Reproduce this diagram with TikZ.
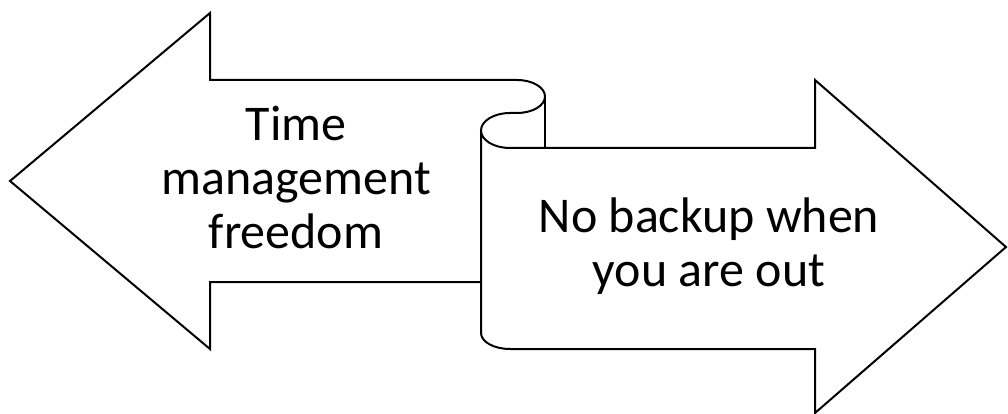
\documentclass[tikz,border=0pt]{standalone}
\usepackage{fontspec}
\setmainfont{Carlito}
\begin{document}
\begin{tikzpicture}[x=1pt,y=-1pt,
  outline/.style={draw=black,line width=2pt,line join=miter},
  label/.style={font=\fontsize{50}{54}\selectfont,align=center,anchor=base,inner sep=0pt}]
\useasboundingbox (0,0) rectangle (1008,414);
% ribbon outline: left arrow, curl, right arrow
\draw[outline] (481,282) -- (210,282) -- (210,349) -- (10,181) -- (210,13) -- (210,80) -- (517,80)
  .. controls (532.5,80) and (545,87.4) .. (545,96.5)
  .. controls (545,105.6) and (532.5,113) .. (517,113)
  -- (510,113)
  .. controls (494,113) and (481,120.8) .. (481,130.5)
  .. controls (481,140.2) and (494,148) .. (510,148)
  -- (815,148) -- (815,80) -- (1006,247) -- (815,413) -- (815,349) -- (510,349)
  .. controls (494,349) and (481,341.8) .. (481,333)
  -- (481,130.5);
\draw[outline] (545,96.5) -- (545,148);
\node[label] (left) at (296,248) {Time\\management\\freedom};
\node[label] (right) at (709,286) {No backup when\\you are out};
\end{tikzpicture}
\end{document}
